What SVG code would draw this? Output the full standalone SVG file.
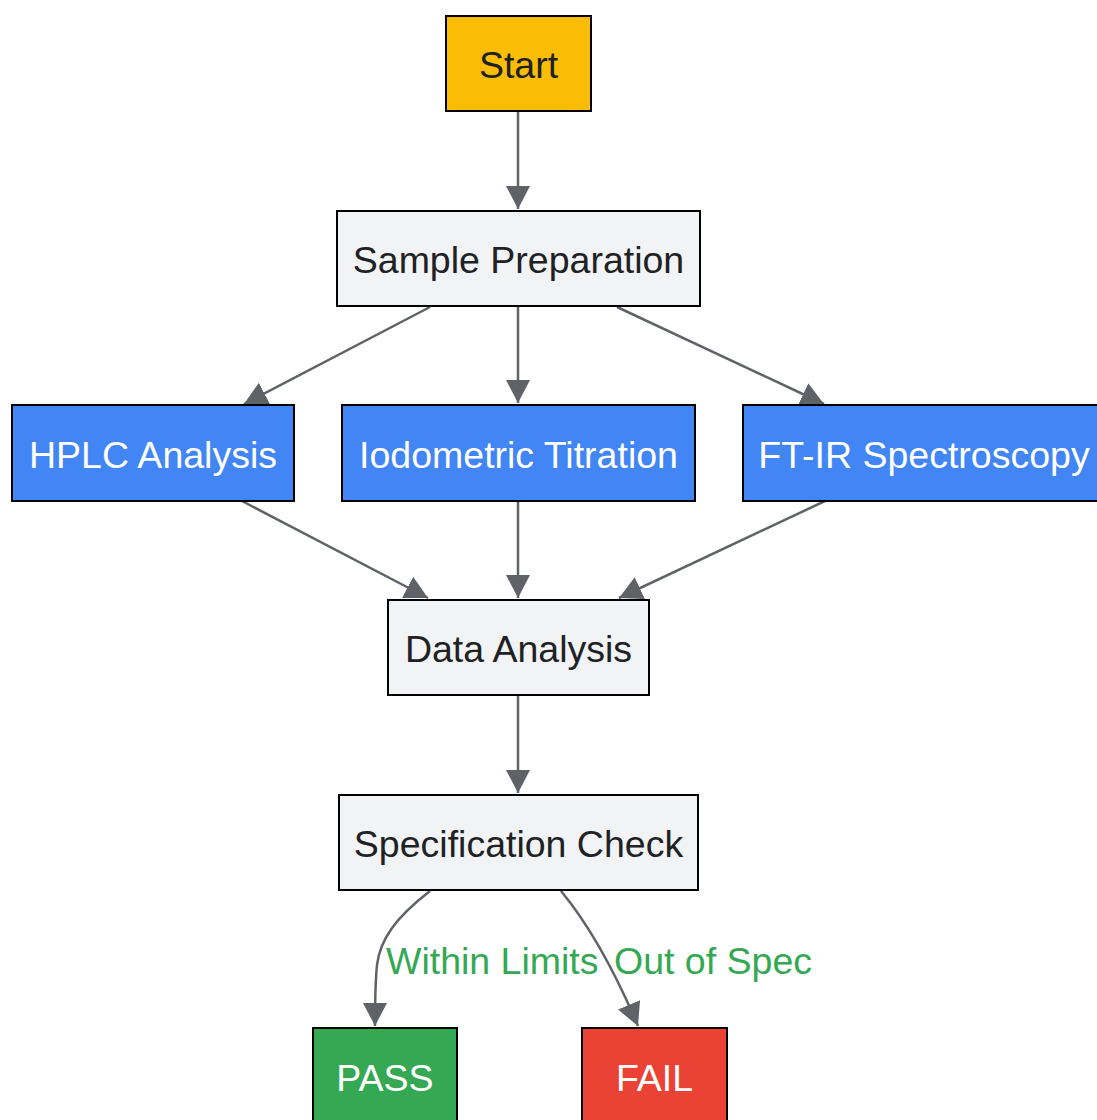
<svg xmlns="http://www.w3.org/2000/svg" width="1097" height="1120" viewBox="0 0 1097 1120">
<style>
.n{stroke:#000;stroke-width:2}
.t{font-family:"Liberation Sans",Arial,sans-serif;font-size:37.5px;text-anchor:middle}
.dk{fill:#202124}
.wh{fill:#fff}
.e{fill:none;stroke:#5f6368;stroke-width:2.5;marker-end:url(#ah)}
.lb{font-family:"Liberation Sans",Arial,sans-serif;font-size:37.5px;fill:#34a853}
</style>
<defs>
<marker id="ah" markerUnits="userSpaceOnUse" markerWidth="26" markerHeight="26" refX="23" refY="12" orient="auto" viewBox="0 0 26 26">
<path d="M0,0 L23,12 L0,24 Z" fill="#5f6368"/>
</marker>
</defs>
<rect width="1097" height="1120" fill="#fff"/>
<g id="connectors">
<path class="e" d="M518,111 L518,209"/>
<path class="e" d="M430,307 L244,404"/>
<path class="e" d="M518,307 L518,403"/>
<path class="e" d="M617,307 L824,404"/>
<path class="e" d="M242,501 L428,598"/>
<path class="e" d="M518,501 L518,598"/>
<path class="e" d="M825,501 L619,598"/>
<path class="e" d="M518,695 L518,793"/>
<path class="e" d="M430,891 C395,918 380,940 377,965 C375,985 375,1005 375,1026"/>
<path class="e" d="M561,891 C585,920 610,960 638,1026"/>
<text class="lb" x="386" y="974">Within Limits</text>
<text class="lb" x="614" y="974">Out of Spec</text>
</g>
<g id="start"><rect class="n" x="446" y="16" width="145" height="95" fill="#fbbc04"/><text class="t dk" x="518.5" y="78">Start</text></g>
<g id="sample"><rect class="n" x="337" y="211" width="363" height="95" fill="#f1f3f4"/><text class="t dk" x="518.5" y="273">Sample Preparation</text></g>
<g id="hplc"><rect class="n" x="12" y="405" width="282" height="96" fill="#4285f4"/><text class="t wh" x="153" y="468">HPLC Analysis</text></g>
<g id="iodo"><rect class="n" x="342" y="405" width="353" height="96" fill="#4285f4"/><text class="t wh" x="518.5" y="468">Iodometric Titration</text></g>
<g id="ftir"><rect class="n" x="743" y="405" width="362" height="96" fill="#4285f4"/><text class="t wh" x="924" y="468">FT-IR Spectroscopy</text></g>
<g id="data"><rect class="n" x="388" y="600" width="261" height="95" fill="#f1f3f4"/><text class="t dk" x="518.5" y="662">Data Analysis</text></g>
<g id="spec"><rect class="n" x="339" y="795" width="359" height="95" fill="#f1f3f4"/><text class="t dk" x="518.5" y="857">Specification Check</text></g>
<g id="pass"><rect class="n" x="313" y="1028" width="144" height="96" fill="#34a853"/><text class="t wh" x="385" y="1091">PASS</text></g>
<g id="fail"><rect class="n" x="582" y="1028" width="145" height="96" fill="#ea4335"/><text class="t wh" x="654.5" y="1091">FAIL</text></g>
</svg>
